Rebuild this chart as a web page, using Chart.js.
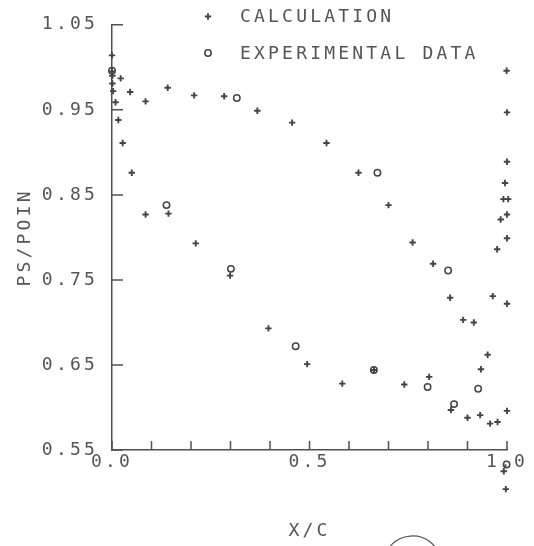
<!DOCTYPE html>
<html>
<head>
<meta charset="utf-8">
<script src="https://cdn.jsdelivr.net/npm/chart.js@4.4.1/dist/chart.umd.min.js"></script>
<style>
  html, body { margin: 0; padding: 0; background: #fff; }
  #wrap { width: 534px; height: 546px; position: relative; }
</style>
</head>
<body>
<div id="wrap"><canvas id="psChart"></canvas></div>
<script>
// calculation (+)
const calcX = [0.000, 0.000, 0.001, 0.001, 0.003, 0.009, 0.016, 0.027, 0.050, 0.085,
  0.143, 0.212, 0.299, 0.396, 0.494, 0.583, 0.663, 0.740, 0.803, 0.858,
  0.900, 0.932, 0.957, 0.976, 1.000, 0.992, 0.997,
  0.022, 0.046, 0.085, 0.141, 0.208, 0.284, 0.368, 0.456, 0.543, 0.624,
  0.700, 0.761, 0.813, 0.856, 0.889, 0.916, 0.934, 0.951, 0.964, 0.975,
  0.984, 1.000, 1.000, 1.000, 0.991, 1.003, 0.995, 1.000, 1.000, 0.999];
const calcY = [1.014, 0.995, 0.990, 0.981, 0.972, 0.959, 0.938, 0.911, 0.876, 0.827,
  0.828, 0.793, 0.755, 0.693, 0.651, 0.628, 0.644, 0.627, 0.636, 0.597,
  0.588, 0.591, 0.581, 0.583, 0.596, 0.525, 0.504,
  0.987, 0.971, 0.960, 0.976, 0.967, 0.966, 0.949, 0.935, 0.911, 0.876,
  0.838, 0.794, 0.769, 0.729, 0.703, 0.700, 0.645, 0.662, 0.731, 0.786,
  0.821, 0.722, 0.799, 0.827, 0.845, 0.845, 0.864, 0.889, 0.947, 0.996];

// experimental data (o)
const expX = [0.000, 0.138, 0.301, 0.316, 0.465, 0.663, 0.672, 0.799, 0.851, 0.866, 0.927, 0.999];
const expY = [0.996, 0.838, 0.763, 0.964, 0.672, 0.644, 0.876, 0.624, 0.761, 0.604, 0.622, 0.533];

const xTickValues = [0, 0.5, 1.0];
const xTickLabels = ['0.0', '0.5', '1.0'];
const yTickLabels = ['0.55', '0.65', '0.75', '0.85', '0.95', '1.05'];

const ink = '#555';
const lineInk = '#505050';
const fontFam = '"DejaVu Sans Mono", monospace';
const spacing = '3.2px';

function toPoints(xs, ys) {
  return xs.map((x, i) => ({ x: x, y: ys[i] }));
}

// plotter look: wide letter spacing on all text
const plotterText = {
  id: 'plotterText',
  beforeDraw(chart) {
    chart.ctx.letterSpacing = spacing;
  }
};

// a few points sit below the x axis, let them draw outside the area
let savedArea = null;
const overflowPoints = {
  id: 'overflowPoints',
  beforeDatasetsDraw(chart) {
    const a = chart.chartArea;
    savedArea = { bottom: a.bottom, right: a.right };
    a.bottom = chart.height;
    a.right = chart.width;
  },
  afterDatasetsDraw(chart) {
    if (savedArea) {
      chart.chartArea.bottom = savedArea.bottom;
      chart.chartArea.right = savedArea.right;
    }
  }
};

// ticks pointing into the plot
const inwardTicks = {
  id: 'inwardTicks',
  afterDraw(chart) {
    const { ctx, scales: { x, y } } = chart;
    ctx.save();
    ctx.strokeStyle = lineInk;
    ctx.lineWidth = 1.5;
    ctx.beginPath();
    x.ticks.forEach(t => {
      const px = x.getPixelForValue(t.value);
      ctx.moveTo(px, x.top);
      ctx.lineTo(px, x.top - 9);
    });
    y.ticks.forEach(t => {
      const py = y.getPixelForValue(t.value);
      ctx.moveTo(y.right, py);
      ctx.lineTo(y.right + 11, py);
    });
    ctx.stroke();
    ctx.restore();
  }
};

// legend in the top right, symbols then text
const plotLegend = {
  id: 'plotLegend',
  afterDraw(chart) {
    const ctx = chart.ctx;
    const rows = [16.5, 53];
    chart.data.datasets.forEach((ds, i) => {
      const yy = rows[i];
      const r = ds.pointRadius;
      ctx.save();
      ctx.strokeStyle = ds.borderColor;
      ctx.lineWidth = ds.borderWidth;
      ctx.beginPath();
      if (ds.pointStyle === 'cross') {
        ctx.moveTo(208 - r, yy); ctx.lineTo(208 + r, yy);
        ctx.moveTo(208, yy - r); ctx.lineTo(208, yy + r);
      } else {
        ctx.arc(208, yy, r, 0, Math.PI * 2);
      }
      ctx.stroke();
      ctx.font = '18px ' + fontFam;
      ctx.letterSpacing = spacing;
      ctx.fillStyle = ink;
      ctx.textAlign = 'left';
      ctx.textBaseline = 'middle';
      ctx.fillText(ds.label, 240, yy + 1);
      ctx.restore();
    });
  }
};

// pencil circle at the bottom edge of the scan
const pencilMark = {
  id: 'pencilMark',
  afterDraw(chart) {
    const ctx = chart.ctx;
    ctx.save();
    ctx.strokeStyle = '#555';
    ctx.lineWidth = 1.3;
    ctx.beginPath();
    ctx.ellipse(412, 560, 27, 24, -0.08, 0, Math.PI * 2);
    ctx.stroke();
    ctx.restore();
  }
};

const ctx = document.getElementById('psChart').getContext('2d');

const psChart = new Chart(ctx, {
  type: 'scatter',
  data: {
    datasets: [
      {
        label: 'CALCULATION',
        data: toPoints(calcX, calcY),
        pointStyle: 'cross',
        pointRadius: 3.2,
        borderColor: '#444',
        borderWidth: 1.9,
        clip: false
      },
      {
        label: 'EXPERIMENTAL DATA',
        data: toPoints(expX, expY),
        pointStyle: 'circle',
        pointRadius: 3.2,
        borderColor: '#444',
        backgroundColor: 'rgba(0,0,0,0)',
        borderWidth: 1.5,
        clip: false
      }
    ]
  },
  options: {
    responsive: true,
    maintainAspectRatio: false,
    animation: false,
    layout: { padding: { top: 20, right: 27, left: 0, bottom: 0 } },
    plugins: {
      legend: { display: false },
      tooltip: { enabled: false }
    },
    scales: {
      x: {
        type: 'linear',
        min: 0,
        max: 1,
        afterFit: s => { s.height = 96; },
        ticks: {
          stepSize: 0.1,
          autoSkip: false,
          maxRotation: 0,
          padding: 2,
          color: ink,
          font: { family: fontFam, size: 18 },
          callback: v => {
            const k = xTickValues.findIndex(t => Math.abs(t - v) < 1e-6);
            return k >= 0 ? xTickLabels[k] : '';
          }
        },
        grid: { display: true, drawOnChartArea: false, drawTicks: false },
        border: { display: true, color: lineInk, width: 1.5 },
        title: {
          display: true,
          text: 'X/C',
          color: ink,
          font: { family: fontFam, size: 18 },
          padding: { top: 0, bottom: 4 }
        }
      },
      y: {
        type: 'linear',
        min: 0.55,
        max: 1.05,
        afterFit: s => { s.width = 112; },
        ticks: {
          stepSize: 0.1,
          padding: 14,
          color: ink,
          font: { family: fontFam, size: 18 },
          callback: (v, i) => yTickLabels[i]
        },
        grid: { display: true, drawOnChartArea: false, drawTicks: false },
        border: { display: true, color: lineInk, width: 1.5 },
        title: {
          display: true,
          text: 'PS/POIN',
          color: ink,
          font: { family: fontFam, size: 18 },
          padding: { top: 15, bottom: 0 }
        }
      }
    }
  },
  plugins: [plotterText, overflowPoints, inwardTicks, plotLegend, pencilMark]
});
</script>
</body>
</html>
